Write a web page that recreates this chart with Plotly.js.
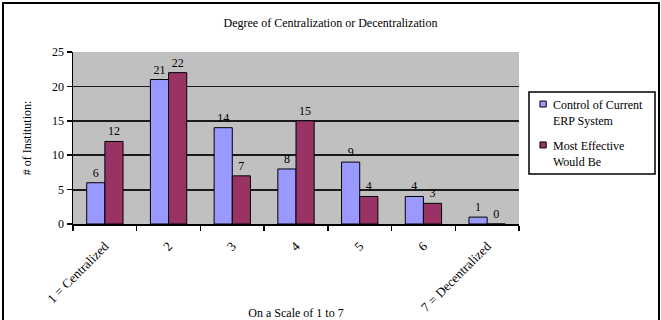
<!DOCTYPE html>
<html><head><meta charset="utf-8">
<script src="https://cdn.plot.ly/plotly-3.0.1.min.js"></script>
<style>
html,body{margin:0;padding:0;background:#fff;overflow:hidden;}
#chart{position:absolute;left:0;top:0;width:661px;height:320px;}
#frame{position:absolute;left:2px;top:2px;width:654px;height:340px;border:2px solid #000;pointer-events:none;}
</style>
</head><body>
<div id="chart"></div>
<div id="frame"></div>
<script>
const categories = ["1 = Centralized","2","3","4","5","6","7 = Decentralized"];
const currentControl = [6,21,14,8,9,4,1];
const mostEffective = [12,22,7,15,4,3,0];
const seriesNames = ["Control of Current<br>ERP System","Most Effective<br>Would Be"];
const seriesColors = ["#9999FF","#993366"];
const yTicks = [0,5,10,15,20,25];

const serif = "'Liberation Serif', 'Times New Roman', serif";
const traces = [currentControl, mostEffective].map((vals, i) => ({
  type:"bar", x:categories, y:vals, name:seriesNames[i], showlegend:false,
  marker:{color:seriesColors[i], line:{color:"#000", width:1}},
  text:vals.map(String), textposition:"outside", cliponaxis:false,
  textfont:{family:serif, size:12, color:"#000"}
}));

// custom legend (box, swatches, labels) in paper coordinates
const legShapes = [
  {type:"rect", xref:"paper", yref:"paper", x0:1.0224, x1:1.305, y0:0.2907, y1:0.767,
   fillcolor:"#fff", line:{color:"#000", width:1.5}},
  {type:"rect", xref:"paper", yref:"paper", x0:1.047, x1:1.061, y0:0.680, y1:0.715,
   fillcolor:seriesColors[0], line:{color:"#000", width:1}},
  {type:"rect", xref:"paper", yref:"paper", x0:1.047, x1:1.061, y0:0.442, y1:0.477,
   fillcolor:seriesColors[1], line:{color:"#000", width:1}}
];
const legAnn = [
  {xref:"paper", yref:"paper", x:1.072, y:0.643, xanchor:"left", yanchor:"middle", align:"left",
   showarrow:false, text:seriesNames[0], font:{family:serif, size:12, color:"#000"}},
  {xref:"paper", yref:"paper", x:1.072, y:0.408, xanchor:"left", yanchor:"middle", align:"left",
   showarrow:false, text:seriesNames[1], font:{family:serif, size:12, color:"#000"}}
];

const layout = {
  width:661, height:320,
  margin:{l:73, r:142, t:52, b:96},
  paper_bgcolor:"rgba(0,0,0,0)", plot_bgcolor:"#C0C0C0",
  font:{family:serif, size:12, color:"#000"},
  title:{text:"Degree of Centralization or Decentralization", x:0.5, xanchor:"center", y:0.93, yanchor:"middle", font:{family:serif,size:12,color:"#000"}},
  barmode:"group", bargap:0.43, bargroupgap:0,
  showlegend:false,
  shapes:legShapes, annotations:legAnn,
  xaxis:{type:"category", tickangle:-45, showline:true, linecolor:"#000", linewidth:1.5,
         ticks:"outside", tickson:"boundaries", ticklen:5, tickcolor:"#000", tickwidth:1.5, showgrid:false,
         tickfont:{family:serif,size:13,color:"#000"}, ticklabelstandoff:8, automargin:false,
         title:{text:"On a Scale of 1 to 7", font:{family:serif,size:12,color:"#000"}, standoff:18}},
  yaxis:{range:[0,25], tickvals:yTicks, showline:true, linecolor:"#000", linewidth:1.5,
         ticks:"outside", ticklen:5, tickcolor:"#000", tickwidth:1.5, showgrid:true, gridcolor:"#1a1a1a", gridwidth:1.8,
         zeroline:false, tickfont:{family:serif,size:12,color:"#000"}, automargin:false,
         title:{text:"# of Institution:", font:{family:serif,size:12,color:"#000"}, standoff:18}}
};
Plotly.newPlot("chart", traces, layout, {displayModeBar:false, staticPlot:true});
</script>
</body></html>
